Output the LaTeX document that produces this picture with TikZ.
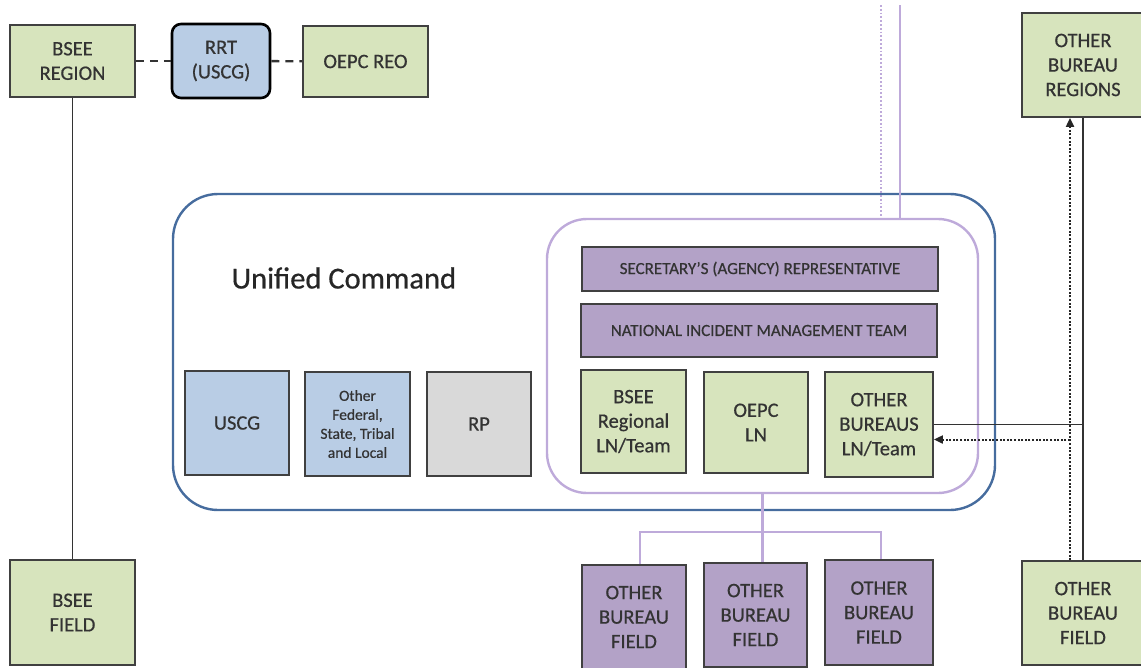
\documentclass[tikz,border=0pt]{standalone}
\usepackage{fontspec}
\setmainfont{Carlito}[FakeBold=0.6]
\usetikzlibrary{
    arrows.meta,
    positioning
}
\tikzset{
    % Colors
    region green/.style={fill={rgb,255:red,215;green,228;blue,189}},
    coast blue/.style={fill={rgb,255:red,185;green,205;blue,229}},
    party gray/.style={fill={rgb,255:red,217;green,217;blue,217}},
    bureau purple/.style={fill={rgb,255:red,179;green,162;blue,199}},
    lavender/.style={draw={rgb,255:red,190;green,170;blue,218}},
    command blue/.style={draw={rgb,255:red,70;green,108;blue,158}},
    %
    % Boxes
    box/.style={draw=black!75,line width=1.8pt,text=black!80,align=center,inner sep=0pt},
    green box/.style={box,region green},
    blue box/.style={box,coast blue},
    gray box/.style={box,party gray},
    purple box/.style={box,bureau purple},
    rrt box/.style={blue box,draw=black,line width=2.6pt,rounded corners=9pt},
    small text/.style={font=\fontsize{15.5}{19}\selectfont},
    bar text/.style={font=\fontsize{17}{20}\selectfont},
    %
    % Frames
    uc frame/.style={command blue,line width=2.4pt,rounded corners=45pt,inner sep=0pt},
    ln frame/.style={lavender,line width=2.4pt,rounded corners=40pt,inner sep=0pt},
    %
    % Connectors
    link/.style={draw=black!80,line width=1.8pt},
    dash link/.style={link,line width=2.4pt,dash pattern=on 8pt off 6pt},
    lav link/.style={lavender,line width=2.4pt},
    lav dots/.style={lavender,line width=1.8pt,dotted},
    dot arrow/.style={draw=black!85,line width=2pt,dash pattern=on 2pt off 1.6pt,-{Triangle[length=9pt,width=8pt]}}
}
\tikzstyle{every node}=[font=\fontsize{20.5}{24.5}\selectfont]

\begin{document}
\begin{tikzpicture}[x=1pt,y=-1pt]
    \useasboundingbox (0,0) rectangle (1141,667);

    % frames
    \node[uc frame,minimum width=822,minimum height=316] (uc) at (584,352) {};
    \node[ln frame,minimum width=431,minimum height=274] (ln) at (762.5,356) {};
    \node[anchor=west,font=\fontsize{30.5}{36}\selectfont,text=black!85] (uctitle) at (228,278) {Unified Command};

    % regional level
    \node[green box,minimum width=125,minimum height=72] (bseereg) at (72.5,61) {BSEE\\REGION};
    \node[rrt box,minimum width=98,minimum height=74] (rrt) at (221,61) {RRT\\(USCG)};
    \node[green box,minimum width=125,minimum height=71] (oepcreo) at (365.5,61.5) {OEPC REO};
    \node[green box,minimum width=122,minimum height=104] (obreg) at (1083,65) {OTHER\\BUREAU\\REGIONS};

    % unified command members
    \node[blue box,minimum width=104,minimum height=104] (uscg) at (237,423) {USCG};
    \node[blue box,small text,minimum width=105,minimum height=104] (other) at (357.5,424) {Other\\Federal,\\State, Tribal\\and Local};
    \node[gray box,minimum width=104,minimum height=104] (rp) at (479,424) {RP};

    % liaison group
    \node[purple box,bar text,minimum width=356,minimum height=44] (secrep) at (760,269) {SECRETARY'S (AGENCY) REPRESENTATIVE};
    \node[purple box,bar text,minimum width=356,minimum height=53] (nimt) at (759,330.5) {NATIONAL INCIDENT MANAGEMENT TEAM};
    \node[green box,minimum width=105,minimum height=103] (bseeln) at (633.5,421.5) {BSEE\\Regional\\LN/Team};
    \node[green box,minimum width=104,minimum height=101] (oepcln) at (756,422.5) {OEPC\\LN};
    \node[green box,minimum width=108,minimum height=105] (obln) at (879,424.5) {OTHER\\BUREAUS\\LN/Team};

    % field level
    \node[green box,minimum width=125,minimum height=105] (bseefield) at (72.5,612.5) {BSEE\\FIELD};
    \node[purple box,minimum width=104,minimum height=104] (field1) at (634,617) {OTHER\\BUREAU\\FIELD};
    \node[purple box,minimum width=103,minimum height=104] (field2) at (755.5,615) {OTHER\\BUREAU\\FIELD};
    \node[purple box,minimum width=108,minimum height=105] (field3) at (879,612.5) {OTHER\\BUREAU\\FIELD};
    \node[green box,minimum width=122,minimum height=104] (obfield) at (1083,613) {OTHER\\BUREAU\\FIELD};

    % connectors
    \draw[link] (bseereg) -- (bseefield);
    \draw[dash link] (bseereg) -- (rrt);
    \draw[dash link] (rrt) -- (oepcreo);

    \coordinate (feed) at (900,5);
    \coordinate (dotfeed) at (881,5);
    \draw[lav link] (feed) -- (feed |- ln.north);
    \draw[lav dots] (dotfeed) -- ([yshift=2]dotfeed |- ln.north);

    \coordinate (bar) at (0,532);
    \draw[lav link] (ln.south) -- (ln.south |- field2.north);
    \draw[lav link] ([xshift=6]field1.north) -- ([xshift=6]field1.north |- bar) -| ([xshift=2]field3.north);

    \draw[link] (obreg) -- (obfield);
    \draw[link] (obln.east) -- (obln.east -| obreg.south);
    \coordinate (dots) at ([xshift=-13]obfield.north);
    \draw[dot arrow] (dots) -- (dots |- obreg.south);
    \draw[dot arrow] ([yshift=-15]obln.east -| dots) -- ([yshift=-15]obln.east);
\end{tikzpicture}
\end{document}
